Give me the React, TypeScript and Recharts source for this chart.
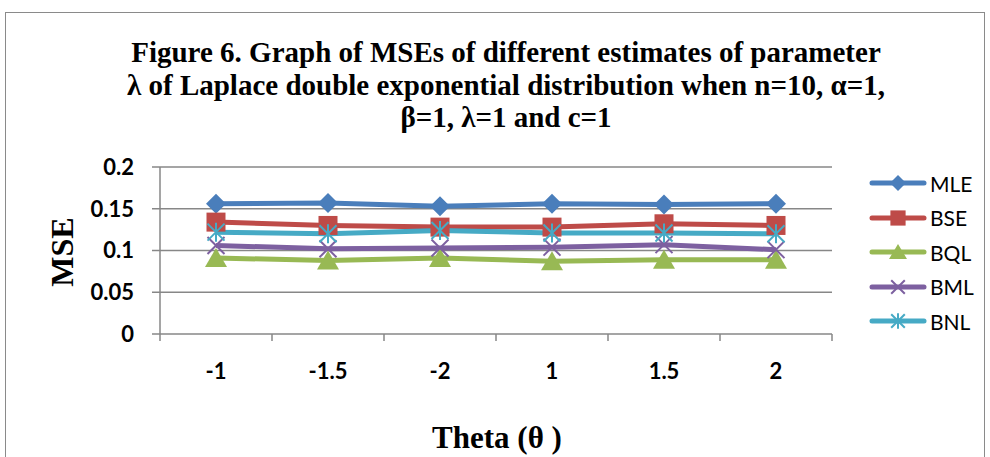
import { LineChart, Line, XAxis, YAxis, CartesianGrid, Legend } from 'recharts'

const THETA = ['-1', '-1.5', '-2', '1', '1.5', '2']
const MLE = [0.156, 0.157, 0.153, 0.156, 0.155, 0.156]
const BSE = [0.134, 0.13, 0.128, 0.128, 0.132, 0.13]
const BQL = [0.091, 0.088, 0.091, 0.087, 0.089, 0.089]
const BML = [0.106, 0.102, 0.103, 0.104, 0.107, 0.101]
const BNL = [0.122, 0.12, 0.124, 0.121, 0.121, 0.12]
const Y_TICKS = [0, 0.05, 0.1, 0.15, 0.2]

const TITLE = [
  'Figure 6. Graph of MSEs of different estimates of parameter',
  'λ of Laplace double exponential distribution when n=10, α=1,',
  'β=1, λ=1 and c=1',
]

type Shape = 'diamond' | 'square' | 'triangle' | 'cross' | 'star'

const SERIES: { key: string; name: string; color: string; shape: Shape }[] = [
  { key: 'mle', name: 'MLE', color: '#4a7ebb', shape: 'diamond' },
  { key: 'bse', name: 'BSE', color: '#be4b48', shape: 'square' },
  { key: 'bql', name: 'BQL', color: '#98b954', shape: 'triangle' },
  { key: 'bml', name: 'BML', color: '#7d60a0', shape: 'cross' },
  { key: 'bnl', name: 'BNL', color: '#46aac5', shape: 'star' },
]

const data = THETA.map((t, i) => ({
  theta: t,
  mle: MLE[i],
  bse: BSE[i],
  bql: BQL[i],
  bml: BML[i],
  bnl: BNL[i],
}))

const W = 990
const H = 457
const PLOT_LEFT = 160
const PLOT_RIGHT = 832
const PLOT_TOP = 167
const PLOT_BOTTOM = 334
const BAND = (PLOT_RIGHT - PLOT_LEFT) / THETA.length
const AXIS = '#878787'
const SERIF = '"Liberation Serif", "Times New Roman", serif'
const SANS = 'Lato, "Open Sans", sans-serif'

function Marker({ cx, cy, shape, color, s = 1 }: { cx: number; cy: number; shape: Shape; color: string; s?: number }) {
  if (shape === 'diamond') {
    const r = 10 * s
    return <polygon points={`${cx},${cy - r} ${cx + r},${cy} ${cx},${cy + r} ${cx - r},${cy}`} fill={color} />
  }
  if (shape === 'square') {
    const r = 9.5 * s
    return <rect x={cx - r} y={cy - r} width={r * 2} height={r * 2} fill={color} />
  }
  if (shape === 'triangle') {
    const r = 10 * s
    return <polygon points={`${cx},${cy - r} ${cx + r + 1},${cy + r - 1} ${cx - r - 1},${cy + r - 1}`} fill={color} />
  }
  const r = 8.5 * s
  return (
    <g stroke={color} strokeWidth={2}>
      <line x1={cx - r} y1={cy - r} x2={cx + r} y2={cy + r} />
      <line x1={cx - r} y1={cy + r} x2={cx + r} y2={cy - r} />
      {shape === 'star' && <line x1={cx} y1={cy - r - 1} x2={cx} y2={cy + r + 1} />}
    </g>
  )
}

function XTick(props: any) {
  const { x, payload, index } = props
  return (
    <g>
      <line x1={x - BAND / 2} y1={PLOT_BOTTOM} x2={x - BAND / 2} y2={PLOT_BOTTOM + 7} stroke={AXIS} strokeWidth={1.5} />
      {index === THETA.length - 1 && (
        <line x1={x + BAND / 2} y1={PLOT_BOTTOM} x2={x + BAND / 2} y2={PLOT_BOTTOM + 7} stroke={AXIS} strokeWidth={1.5} />
      )}
      <text x={x} y={PLOT_BOTTOM + 36} textAnchor="middle" dominantBaseline="central" fontFamily={SANS} fontWeight={700} fontSize={22} fill="#000">
        {payload.value}
      </text>
    </g>
  )
}

function LegendBox() {
  return (
    <div style={{ position: 'absolute', left: 868, top: 166 }}>
      {SERIES.map((s) => (
        <div key={s.key} style={{ display: 'flex', alignItems: 'center', height: 34.5 }}>
          <svg width={60} height={24}>
            <line x1={4} y1={12} x2={56} y2={12} stroke={s.color} strokeWidth={5} strokeLinecap="round" />
            <Marker cx={30} cy={12} shape={s.shape} color={s.color} s={0.8} />
          </svg>
          <span style={{ fontFamily: SANS, fontSize: 21, color: '#000', marginLeft: 2 }}>{s.name}</span>
        </div>
      ))}
    </div>
  )
}

export default function App() {
  return (
    <div style={{ position: 'absolute', left: 0, top: 0, width: W, height: H, overflow: 'hidden', background: '#fff' }}>
      <div style={{ position: 'absolute', left: 5, top: 12, width: 978, height: 480, border: '1.5px solid #8a8a8a' }} />
      <div
        style={{
          position: 'absolute',
          left: 0,
          top: 36,
          width: 1012,
          textAlign: 'center',
          fontFamily: SERIF,
          fontWeight: 700,
          fontSize: 29,
          lineHeight: '32.5px',
          color: '#000',
        }}
      >
        {TITLE.map((t) => (
          <div key={t}>{t}</div>
        ))}
      </div>
      <div style={{ position: 'absolute', left: 0, top: 0 }}>
        <LineChart
          width={W}
          height={H}
          data={data}
          margin={{ top: PLOT_TOP, right: W - PLOT_RIGHT, bottom: 0, left: 0 }}
        >
          <CartesianGrid vertical={false} horizontalValues={Y_TICKS.slice(1)} stroke={AXIS} strokeWidth={1.5} />
          <XAxis
            dataKey="theta"
            height={H - PLOT_BOTTOM}
            padding={{ left: BAND / 2, right: BAND / 2 }}
            stroke={AXIS}
            strokeWidth={1.5}
            tickLine={false}
            tick={<XTick />}
            interval={0}
            label={{
              content: () => (
                <text x={497} y={437} textAnchor="middle" dominantBaseline="central" fontFamily={SERIF} fontWeight={700} fontSize={31} fill="#000">
                  Theta (θ )
                </text>
              ),
            }}
          />
          <YAxis
            width={PLOT_LEFT}
            domain={[0, 0.2]}
            ticks={Y_TICKS}
            interval={0}
            stroke={AXIS}
            strokeWidth={1.5}
            tickSize={8}
            tickMargin={18}
            tick={{ fill: '#000', fontFamily: SANS, fontWeight: 700, fontSize: 22 }}
            label={{
              content: () => (
                <text
                  x={62}
                  y={252}
                  transform="rotate(-90, 62, 252)"
                  textAnchor="middle"
                  dominantBaseline="central"
                  fontFamily={SERIF}
                  fontWeight={700}
                  fontSize={32}
                  fill="#000"
                >
                  MSE
                </text>
              ),
            }}
          />
          <Legend content={() => null} />
          {SERIES.map((s) => (
            <Line
              key={s.key}
              dataKey={s.key}
              name={s.name}
              type="linear"
              stroke={s.color}
              strokeWidth={5}
              isAnimationActive={false}
              dot={(p: any) => <Marker key={`${s.key}-${p.index}`} cx={p.cx} cy={p.cy} shape={s.shape} color={s.color} />}
              activeDot={false}
            />
          ))}
        </LineChart>
      </div>
      <LegendBox />
    </div>
  )
}
